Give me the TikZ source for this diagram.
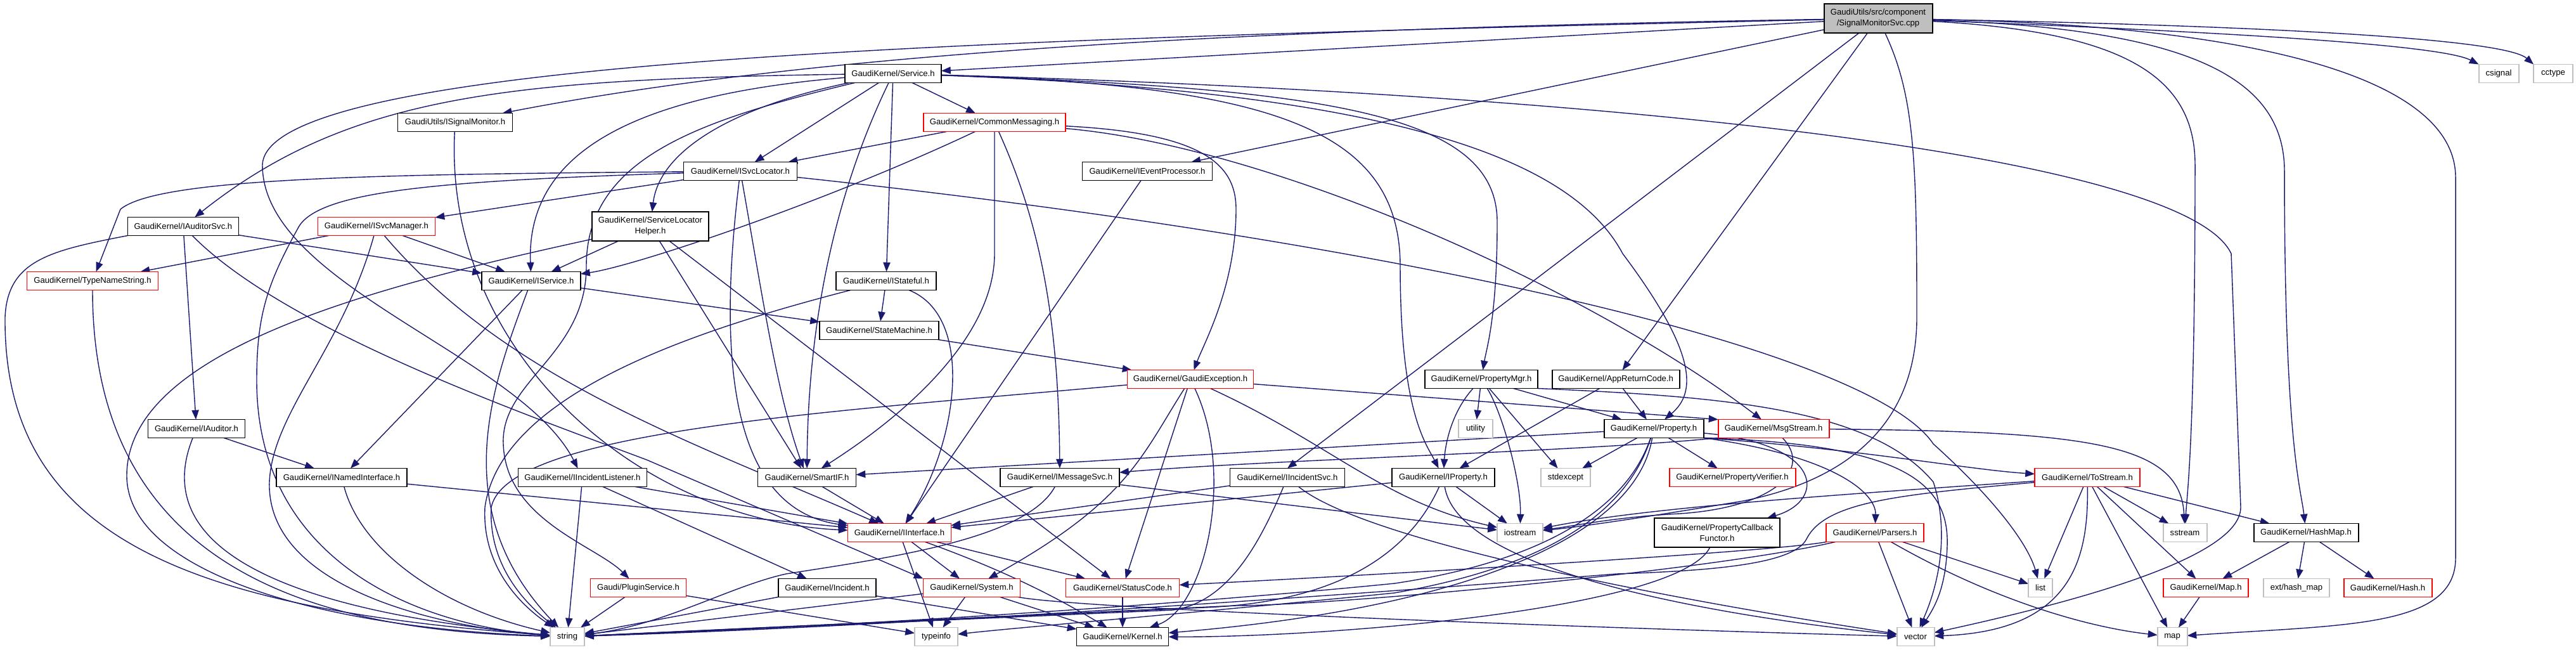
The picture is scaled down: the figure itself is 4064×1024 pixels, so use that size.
\documentclass[tikz,border=0pt]{standalone}
\usepackage{fontspec}
\setmainfont{Liberation Sans}
\usetikzlibrary{arrows.meta}
\definecolor{edgec}{HTML}{191970}
\definecolor{rootfill}{HTML}{BFBFBF}
\definecolor{grayb}{HTML}{BFBFBF}
\pgfdeclarelayer{edges}
\pgfsetlayers{edges,main}
\newcommand{\bx}[7]{\node[#1,minimum width=#5*0.01cm,minimum height=#6*0.01cm] (#2) at (#3,#4) {#7};}
\begin{document}
\begin{tikzpicture}[x=0.01cm,y=-0.01cm,
  nbase/.style={rectangle,inner sep=0pt,outer sep=0pt,align=center,font=\fontsize{3.73}{4.8}\selectfont,fill=white,line width=0.55pt},
  bbox/.style={nbase,draw=black},
  rbox/.style={nbase,draw=red},
  gbox/.style={nbase,draw=grayb},
  rootbox/.style={nbase,draw=black,fill=rootfill},
  ed/.style={draw=edgec,line width=0.4pt,-{Triangle[length=4.2pt,width=3.2pt]}}]
\useasboundingbox (0,0) rectangle (4064,1024);
% nodes
\bx{rootbox}{root}{2963}{29}{171}{46}{GaudiUtils/src/component\\/SignalMonitorSvc.cpp}
\bx{bbox}{svc}{1409}{116}{152}{29}{GaudiKernel/Service.h}
\bx{gbox}{csig}{3942}{116}{63}{29}{csignal}
\bx{gbox}{cct}{4028}{116}{62}{29}{cctype}
\bx{bbox}{ism}{718}{193}{181}{29}{GaudiUtils/ISignalMonitor.h}
\bx{rbox}{cm}{1569}{193}{224}{29}{GaudiKernel/CommonMessaging.h}
\bx{bbox}{isl}{1168}{270}{179}{29}{GaudiKernel/ISvcLocator.h}
\bx{bbox}{iep}{1810}{270}{205}{29}{GaudiKernel/IEventProcessor.h}
\bx{bbox}{ias}{289}{357}{175}{29}{GaudiKernel/IAuditorSvc.h}
\bx{rbox}{isvm}{594}{357}{185}{29}{GaudiKernel/ISvcManager.h}
\bx{bbox}{slh}{1026}{357}{184}{46}{GaudiKernel/ServiceLocator\\Helper.h}
\bx{rbox}{tns}{146}{443}{207}{29}{GaudiKernel/TypeNameString.h}
\bx{bbox}{isv}{838}{443}{156}{29}{GaudiKernel/IService.h}
\bx{bbox}{ist}{1398}{443}{158}{29}{GaudiKernel/IStateful.h}
\bx{bbox}{stm}{1387}{521}{188}{29}{GaudiKernel/StateMachine.h}
\bx{rbox}{gex}{1878}{598}{199}{29}{GaudiKernel/GaudiException.h}
\bx{bbox}{pmg}{2337}{598}{178}{29}{GaudiKernel/PropertyMgr.h}
\bx{bbox}{arc}{2549}{598}{201}{29}{GaudiKernel/AppReturnCode.h}
\bx{bbox}{iau}{310}{676}{153}{29}{GaudiKernel/IAuditor.h}
\bx{gbox}{util}{2328}{676}{54}{29}{utility}
\bx{bbox}{prop}{2609}{676}{157}{29}{GaudiKernel/Property.h}
\bx{rbox}{msg}{2798}{676}{175}{29}{GaudiKernel/MsgStream.h}
\bx{bbox}{ini}{539}{753}{206}{29}{GaudiKernel/INamedInterface.h}
\bx{bbox}{iil}{919}{753}{203}{29}{GaudiKernel/IIncidentListener.h}
\bx{bbox}{sif}{1273}{753}{155}{29}{GaudiKernel/SmartIF.h}
\bx{bbox}{ims}{1672}{753}{188}{29}{GaudiKernel/IMessageSvc.h}
\bx{bbox}{iis}{2031}{753}{181}{29}{GaudiKernel/IIncidentSvc.h}
\bx{bbox}{ipr}{2277}{753}{162}{29}{GaudiKernel/IProperty.h}
\bx{gbox}{stdx}{2470}{753}{78}{29}{stdexcept}
\bx{rbox}{pver}{2733}{753}{199}{29}{GaudiKernel/PropertyVerifier.h}
\bx{rbox}{tos}{3293}{753}{166}{29}{GaudiKernel/ToStream.h}
\bx{rbox}{iif}{1419}{840}{163}{29}{GaudiKernel/IInterface.h}
\bx{gbox}{ios}{2398}{840}{72}{29}{iostream}
\bx{bbox}{pcf}{2709}{840}{198}{46}{GaudiKernel/PropertyCallback\\Functor.h}
\bx{rbox}{prs}{2958}{840}{154}{29}{GaudiKernel/Parsers.h}
\bx{gbox}{sst}{3447}{840}{69}{29}{sstream}
\bx{bbox}{hmp}{3638}{840}{165}{29}{GaudiKernel/HashMap.h}
\bx{rbox}{plg}{1007}{927}{151}{29}{Gaudi/PluginService.h}
\bx{bbox}{inc}{1305}{927}{154}{29}{GaudiKernel/Incident.h}
\bx{rbox}{sys}{1533}{927}{153}{29}{GaudiKernel/System.h}
\bx{rbox}{stc}{1771}{927}{179}{29}{GaudiKernel/StatusCode.h}
\bx{gbox}{lst}{3219}{927}{38}{29}{list}
\bx{rbox}{mph}{3480}{927}{134}{29}{GaudiKernel/Map.h}
\bx{gbox}{ehm}{3623}{927}{104}{29}{ext/hash\_map}
\bx{rbox}{hsh}{3767}{927}{139}{29}{GaudiKernel/Hash.h}
\bx{gbox}{str}{895}{1004}{54}{29}{string}
\bx{gbox}{tyi}{1477}{1004}{68}{29}{typeinfo}
\bx{bbox}{ker}{1771}{1004}{145}{29}{GaudiKernel/Kernel.h}
\bx{gbox}{vec}{3022}{1004}{59}{29}{vector}
\bx{gbox}{mapn}{3427}{1004}{47}{29}{map}
\begin{pgfonlayer}{edges}
\fill[white] (0,0) rectangle (4064,1024);
% root
\draw[ed] (root) -- (svc);
\draw[ed] (root) .. controls (2000,45) and (1300,80) .. (ism);
\draw[ed] (root) .. controls (1600,60) and (420,90) .. (414,260) .. controls (414,450) and (820,560) .. (iil);
\draw[ed] (root) -- (iep);
\draw[ed] (root) -- (iis.north);
\draw[ed] (root) -- (arc);
\draw[ed] (root) .. controls (3020,150) and (3024,250) .. (3024,500) .. controls (3024,680) and (2900,760) .. (2750,790) .. controls (2600,815) and (2500,830) .. (ios);
\draw[ed] (root) .. controls (3500,50) and (3850,70) .. (csig.north west);
\draw[ed] (root) .. controls (3550,40) and (3950,60) .. (cct.north west);
\draw[ed] (root) .. controls (3350,50) and (3463,120) .. (3463,260) .. controls (3463,700) and (3450,780) .. (sst);
\draw[ed] (root) .. controls (3450,45) and (3604,120) .. (3604,270) .. controls (3604,700) and (3630,770) .. (hmp);
\draw[ed] (root) .. controls (3550,40) and (3874,120) .. (3874,280) -- (3874,880) .. controls (3874,990) and (3700,985) .. (mapn);
% Service
\draw[ed] (svc) .. controls (800,125) and (550,150) .. (ias);
\draw[ed] (svc) .. controls (1000,150) and (830,240) .. (isv);
\draw[ed] (svc) .. controls (1100,190) and (925,250) .. (925,420) .. controls (925,560) and (790,600) .. (794,700) .. controls (798,820) and (940,860) .. (plg);
\draw[ed] (svc) .. controls (1150,170) and (1040,240) .. (slh);
\draw[ed] (svc) -- (isl);
\draw[ed] (svc) -- (cm);
\draw[ed] (svc) -- (ist);
\draw[ed] (svc) .. controls (1320,300) and (1275,500) .. (sif);
\draw[ed] (svc) .. controls (2000,135) and (2209,200) .. (2209,420) .. controls (2209,650) and (2250,700) .. (ipr);
\draw[ed] (svc) .. controls (2100,140) and (2362,180) .. (2362,350) .. controls (2362,500) and (2345,550) .. (pmg);
\draw[ed] (svc) .. controls (2200,145) and (2480,250) .. (2560,400) .. controls (2680,560) and (2675,620) .. (prop);
\draw[ed] (svc) .. controls (2600,150) and (3450,250) .. (3520,400) -- (3535,800) .. controls (3535,880) and (3270,950) .. (vec);
% CommonMessaging
\draw[ed] (cm) -- (isl);
\draw[ed] (cm) .. controls (1300,320) and (1000,420) .. (isv);
\draw[ed] (cm.south) -- (1569,400) .. controls (1569,520) and (1450,640) .. (sif);
\draw[ed] (cm) .. controls (1640,350) and (1670,500) .. (ims);
\draw[ed] (cm) .. controls (1900,210) and (1950,260) .. (1950,330) .. controls (1950,450) and (1900,540) .. (gex);
\draw[ed] (cm) .. controls (2000,230) and (2500,450) .. (msg);
% ISvcLocator
\draw[ed] (isl) .. controls (600,275) and (250,280) .. (190,330) -- (tns);
\draw[ed] (isl) .. controls (700,285) and (500,300) .. (470,360) .. controls (420,450) and (405,500) .. (405,600) .. controls (405,880) and (650,985) .. (str);
\draw[ed] (isl) -- (isvm);
\draw[ed] (isl) .. controls (2200,380) and (2950,550) .. (3050,700) .. controls (3150,790) and (3200,860) .. (lst);
\draw[ed] (isl) .. controls (1140,500) and (1130,800) .. (iif);
\draw[ed] (isl) .. controls (1200,450) and (1225,620) .. (sif);
% IEventProcessor
\draw[ed] (iep) -- (iif);
% IAuditorSvc
\draw[ed] (ias.south west) .. controls (80,395) and (12,410) .. (8,500) .. controls (5,850) and (300,960) .. (str);
\draw[ed] (ias) -- (isv);
\draw[ed] (ias) -- (iau);
\draw[ed] (ias) .. controls (450,520) and (820,650) .. (1020,725) -- (sys.north west);
% ISvcManager
\draw[ed] (isvm) -- (tns);
\draw[ed] (isvm) -- (isv);
\draw[ed] (isvm) .. controls (540,550) and (430,650) .. (425,760) .. controls (420,930) and (700,990) .. (str);
\draw[ed] (isvm) .. controls (800,600) and (1100,700) .. (iif);
% ServiceLocatorHelper
\draw[ed] (slh) -- (isv);
\draw[ed] (slh) .. controls (600,450) and (200,550) .. (200,750) .. controls (200,900) and (500,990) .. (str);
\draw[ed] (slh) -- (sif);
\draw[ed] (slh) -- (stc);
% TypeNameString
\draw[ed] (tns) .. controls (146,900) and (500,995) .. (str);
% IService
\draw[ed] (isv) -- (ini);
\draw[ed] (isv) -- (stm);
\draw[ed] (isv) .. controls (780,600) and (700,800) .. (str);
% IStateful
\draw[ed] (ist) -- (stm);
\draw[ed] (ist) .. controls (1100,520) and (790,620) .. (765,800) .. controls (760,900) and (830,960) .. (str);
\draw[ed] (ist) .. controls (1540,500) and (1510,700) .. (iif);
% StateMachine
\draw[ed] (stm) -- (gex);
% GaudiException
\draw[ed] (gex) -- (msg.north west);
\draw[ed] (gex) .. controls (1300,650) and (800,680) .. (775,800) .. controls (770,900) and (840,960) .. (str);
\draw[ed] (gex) .. controls (1800,720) and (1780,790) .. (sys);
\draw[ed] (gex) -- (stc);
\draw[ed] (gex) .. controls (1950,750) and (1900,960) .. (ker);
\draw[ed] (gex) .. controls (2100,700) and (2180,790) .. (ios);
% PropertyMgr
\draw[ed] (pmg) -- (util);
\draw[ed] (pmg) .. controls (2290,650) and (2280,700) .. (ipr);
\draw[ed] (pmg) -- (prop);
\draw[ed] (pmg) -- (stdx);
\draw[ed] (pmg) .. controls (2370,650) and (2400,760) .. (ios);
\draw[ed] (pmg.south east) .. controls (2700,625) and (2950,640) .. (3050,760) .. controls (3070,820) and (3068,900) .. (vec);
% AppReturnCode
\draw[ed] (arc) -- (ipr);
\draw[ed] (arc) -- (prop);
% IAuditor
\draw[ed] (iau) -- (ini);
\draw[ed] (iau) .. controls (260,800) and (300,950) .. (str);
% Property
\draw[ed] (prop) -- (sif);
\draw[ed] (prop) -- (stdx);
\draw[ed] (prop) -- (pver);
\draw[ed] (prop) .. controls (2880,700) and (2880,790) .. (pcf);
\draw[ed] (prop.south east) .. controls (2950,710) and (3100,740) .. (tos);
\draw[ed] (prop.south east) .. controls (2900,720) and (2960,780) .. (prs);
\draw[ed] (prop) .. controls (2560,820) and (2400,890) .. (2200,920) .. controls (1900,950) and (1400,985) .. (str);
\draw[ed] (prop) .. controls (2560,830) and (2400,900) .. (2200,935) .. controls (1900,965) and (1600,990) .. (tyi);
\draw[ed] (prop) .. controls (2580,850) and (2300,960) .. (ker);
\draw[ed] (prop.south east) .. controls (3000,700) and (3075,760) .. (3072,860) .. controls (3070,930) and (3050,960) .. (vec);
% MsgStream
\draw[ed] (msg.south west) .. controls (2500,712) and (2000,725) .. (ims);
\draw[ed] (msg) .. controls (2860,740) and (2800,800) .. (2650,810) .. controls (2550,815) and (2480,830) .. (ios);
\draw[ed] (msg) .. controls (3300,680) and (3440,700) .. (sst);
% INamedInterface
\draw[ed] (ini) -- (iif);
\draw[ed] (ini) .. controls (570,870) and (700,960) .. (str);
% IIncidentListener
\draw[ed] (iil) -- (iif);
\draw[ed] (iil) -- (str);
\draw[ed] (iil) -- (inc);
% SmartIF
\draw[ed] (sif) -- (iif);
% IMessageSvc
\draw[ed] (ims) -- (iif);
\draw[ed] (ims) -- (ios);
\draw[ed] (ims) .. controls (1620,850) and (1400,880) .. (1240,905) .. controls (1150,925) and (1050,985) .. (str);
% IIncidentSvc
\draw[ed] (iis) -- (iif);
\draw[ed] (iis) .. controls (2150,850) and (2600,940) .. (vec);
\draw[ed] (iis) .. controls (1990,850) and (1940,950) .. (1850,962) -- (str);
% IProperty
\draw[ed] (ipr) -- (iif);
\draw[ed] (ipr) -- (ios);
\draw[ed] (ipr) .. controls (2220,880) and (2100,950) .. (1900,958) -- (str);
\draw[ed] (ipr) .. controls (2300,900) and (2700,970) .. (vec);
% ToStream
\draw[ed] (tos) .. controls (2900,780) and (2600,800) .. (ios);
\draw[ed] (tos) .. controls (3000,780) and (2880,790) .. (2850,850) .. controls (2830,890) and (2700,900) .. (2550,905) .. controls (2300,925) and (1500,985) .. (str);
\draw[ed] (tos) -- (lst);
\draw[ed] (tos) .. controls (3295,880) and (3270,995) .. (vec);
\draw[ed] (tos) -- (mapn);
\draw[ed] (tos) -- (mph);
\draw[ed] (tos) -- (sst);
\draw[ed] (tos) -- (hmp);
% Parsers
\draw[ed] (prs) .. controls (2800,870) and (2200,905) .. (stc);
\draw[ed] (prs) .. controls (2700,900) and (2100,955) .. (1950,955) -- (str);
\draw[ed] (prs) -- (vec);
\draw[ed] (prs) -- (lst);
\draw[ed] (prs) .. controls (3150,950) and (3300,990) .. (mapn);
% PropertyCallbackFunctor
\draw[ed] (pcf) .. controls (2650,960) and (2100,1005) .. (ker);
% HashMap
\draw[ed] (hmp) -- (mph);
\draw[ed] (hmp) -- (ehm);
\draw[ed] (hmp) -- (hsh);
% Map
\draw[ed] (mph) -- (mapn);
% PluginService
\draw[ed] (plg) -- (str);
\draw[ed] (plg) -- (tyi);
% Incident
\draw[ed] (inc) -- (str);
\draw[ed] (inc) -- (ker);
% System
\draw[ed] (sys) -- (str);
\draw[ed] (sys) -- (tyi);
\draw[ed] (sys) -- (ker);
\draw[ed] (sys) .. controls (1700,960) and (2500,990) .. (vec);
% IInterface
\draw[ed] (iif) -- (sys);
\draw[ed] (iif) -- (stc);
\draw[ed] (iif) -- (tyi);
\draw[ed] (iif) .. controls (1600,905) and (1680,950) .. (ker);
% StatusCode
\draw[ed] (stc) -- (ker);
% ISignalMonitor
\draw[ed] (ism) .. controls (700,550) and (1000,820) .. (iif);
\end{pgfonlayer}
\end{tikzpicture}
\end{document}
